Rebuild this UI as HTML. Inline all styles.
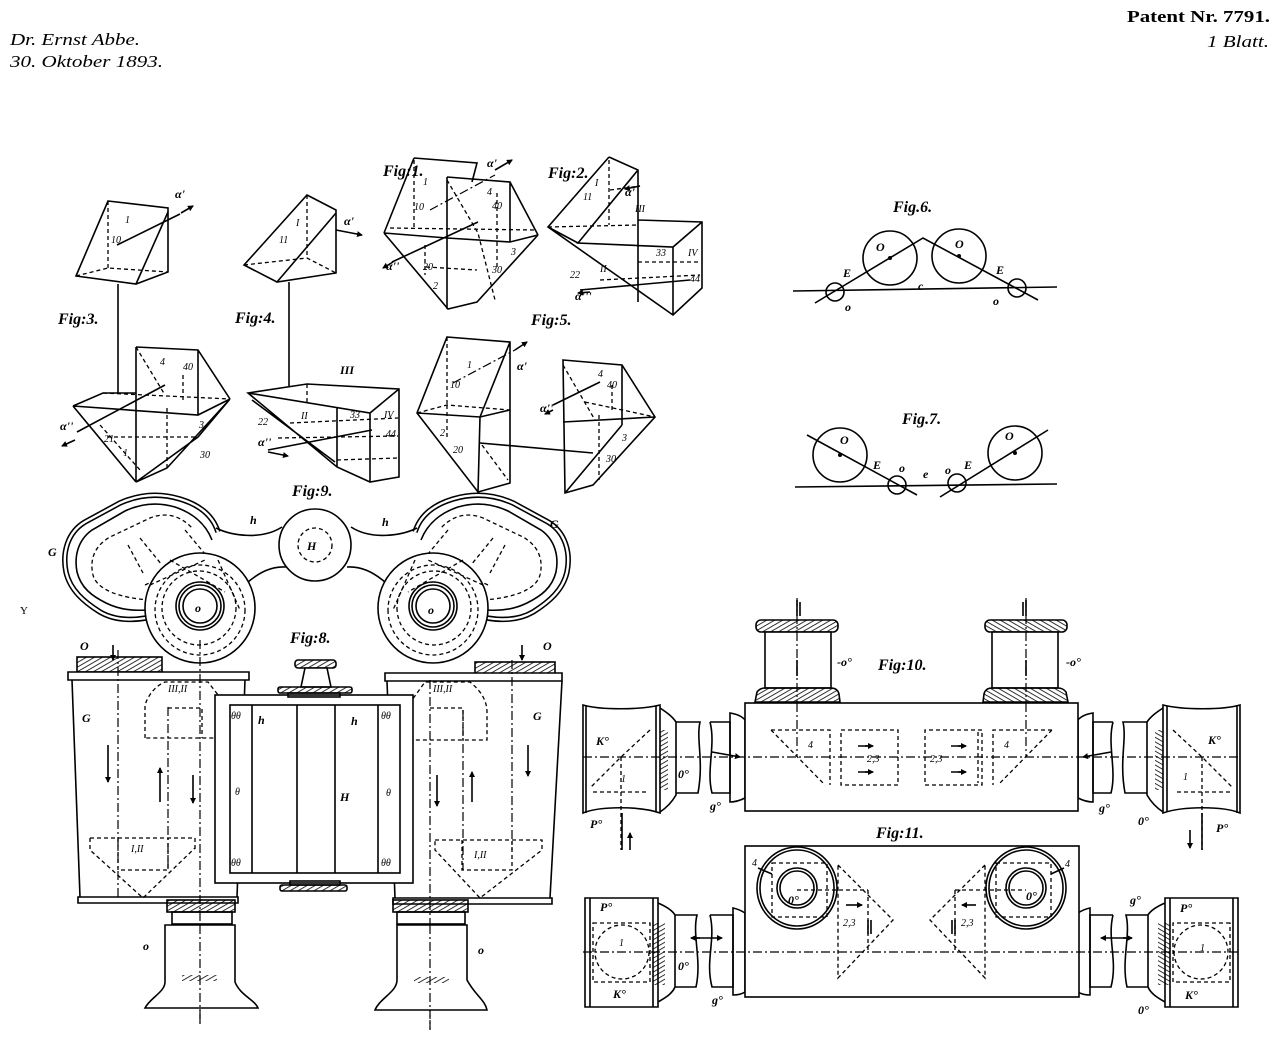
<!DOCTYPE html>
<html><head><meta charset="utf-8"><style>
html,body{margin:0;padding:0;background:#fff;}
svg{display:block}
text{font-family:"Liberation Serif",serif;font-style:italic;fill:#000;stroke:none}
.s{stroke:#000;fill:none;stroke-width:1.6}
.w{stroke:#000;fill:#fff;stroke-width:1.6}
.d{stroke:#000;fill:none;stroke-width:1.3;stroke-dasharray:4 3}
.dd{stroke:#000;fill:none;stroke-width:1.2;stroke-dasharray:9 3 2 3}
.f{font-weight:bold;font-size:16px}
.l{font-size:12px;font-weight:bold}
.m{font-size:10px}
</style></head><body>
<svg width="1280" height="1037" viewBox="0 0 1280 1037" xmlns="http://www.w3.org/2000/svg">
<defs>
<pattern id="h" width="4" height="4" patternUnits="userSpaceOnUse" patternTransform="rotate(60)">
<line x1="0" y1="0" x2="0" y2="4" stroke="#000" stroke-width="1.6"/>
</pattern>
<marker id="a" markerWidth="6" markerHeight="6" refX="5" refY="3" orient="auto" markerUnits="userSpaceOnUse">
<path d="M0,0 L6,3 L0,6 Z" fill="#000"/>
</marker>
</defs>

<!-- Header -->
<text x="10" y="45" font-size="17" textLength="130" lengthAdjust="spacingAndGlyphs">Dr. Ernst Abbe.</text>
<text x="10" y="67" font-size="17" textLength="153" lengthAdjust="spacingAndGlyphs">30. Oktober 1893.</text>
<text x="1270" y="22" font-size="17" text-anchor="end" style="font-style:normal;font-weight:bold" textLength="143" lengthAdjust="spacingAndGlyphs">Patent Nr. 7791.</text>
<text x="1269" y="47" font-size="17" text-anchor="end" textLength="62" lengthAdjust="spacingAndGlyphs">1 Blatt.</text>
<text x="20" y="614" font-size="11" style="font-style:normal">Y</text>

<!-- ===== Fig 3 ===== -->
<g class="s">
<path d="M108,201 L168,208 L168,272 L136,284 L76,276 Z"/>
<path d="M168,212 L136,284"/>
<path d="M117,245 L180,214"/>
<path d="M181,213 L193,206" marker-end="url(#a)"/>
<path d="M118,284 L118,393"/>
<path d="M136,347 L198,350 L230,399 M136,347 L136,482 M73,406 L103,393 L136,393 M73,406 L136,482 M73,406 L198,415 L230,399 M198,350 L198,415 M230,399 L198,437 L136,482 M230,399 L167,468 L136,482"/>
<path d="M77,432 L165,385"/>
<path d="M75,440 L62,446" marker-end="url(#a)"/>
</g>
<path class="d" d="M108,201 L108,268 M76,276 L108,268 L168,272 M103,393 L230,399 M136,347 L165,395 M183,375 L183,402 M107,437 L197,437 M167,468 L167,405 M100,425 L140,470"/>
<text x="175" y="198" class="l" font-size="15">α'</text>
<text x="125" y="223" class="m">1</text>
<text x="111" y="243" class="m">10</text>
<text x="160" y="365" class="m">4</text>
<text x="183" y="370" class="m">40</text>
<text x="199" y="428" class="m">3</text>
<text x="200" y="458" class="m">30</text>
<text x="104" y="442" class="m">21</text>
<text x="123" y="456" class="m">1</text>
<text x="60" y="430" class="l" font-size="14">α''</text>
<text x="58" y="324" class="f">Fig:3.</text>

<!-- ===== Fig 4 ===== -->
<g class="s">
<path d="M307,195 L336,210 L336,273 L277,282 L244,265 Z"/>
<path d="M336,213 L277,282"/>
<path d="M336,230 L362,235" marker-end="url(#a)"/>
<path d="M289,282 L289,386"/>
<path d="M248,393 L307,384 L399,389 L399,477 L370,482 L337,467 Z M248,393 L370,413 L399,389 M370,413 L370,482 M337,407 L337,467 M252,400 L335,462"/>
<path d="M268,450 L372,430"/>
<path d="M268,452 L288,456" marker-end="url(#a)"/>
</g>
<path class="d" d="M307,195 L307,258 M244,265 L307,258 L336,273 M307,384 L307,402 M290,423 L398,418 M278,438 L398,436 M337,460 L398,458"/>
<text x="296" y="226" class="m">I</text>
<text x="279" y="243" class="m">11</text>
<text x="344" y="225" class="l" font-size="15">α'</text>
<text x="340" y="374" class="l">III</text>
<text x="301" y="419" class="m">II</text>
<text x="258" y="425" class="m">22</text>
<text x="350" y="418" class="m">33</text>
<text x="384" y="418" class="m">IV</text>
<text x="386" y="437" class="m">44</text>
<text x="258" y="446" class="l" font-size="14">α''</text>
<text x="235" y="323" class="f">Fig:4.</text>

<!-- ===== Fig 1 ===== -->
<g class="s">
<path d="M414,158 L477,163 L472,182 M414,158 L384,233"/>
<path d="M447,177 L510,182 L538,235 M447,177 L447,309 M510,182 L510,242"/>
<path d="M384,233 L448,309 L477,302 L538,235 M384,233 L447,238 L510,242 L538,235"/>
<path d="M392,262 L478,222"/>
<path d="M393,262 L383,268" marker-end="url(#a)"/>
<path d="M495,170 L512,160" marker-end="url(#a)"/>
</g>
<path class="d" d="M414,160 L414,230 M390,228 L535,230 M497,193 L497,267 M447,180 L478,233 L495,300 M426,267 L477,270 M425,245 L425,275"/>
<path class="dd" d="M430,210 L495,175"/>
<text x="423" y="185" class="m">1</text>
<text x="487" y="195" class="m">4</text>
<text x="414" y="210" class="m">10</text>
<text x="492" y="209" class="m">40</text>
<text x="511" y="255" class="m">3</text>
<text x="433" y="289" class="m">2</text>
<text x="423" y="270" class="m">20</text>
<text x="492" y="273" class="m">30</text>
<text x="487" y="167" class="l" font-size="15">α'</text>
<text x="386" y="270" class="l" font-size="14">α''</text>
<text x="383" y="176" class="f">Fig:1.</text>

<!-- ===== Fig 2 ===== -->
<g class="s">
<path d="M609,157 L638,170 L638,302 M609,157 L548,227 L673,315 L702,288 L702,222 L638,220 M638,170 L578,243 L673,247 L702,222 M673,247 L673,315 M548,227 L578,243"/>
<path d="M580,290 L690,280"/>
<path d="M640,186 L625,189" marker-end="url(#a)"/>
<path d="M590,292 L578,293" marker-end="url(#a)"/>
</g>
<path class="d" d="M609,160 L609,225 M548,227 L638,225 M610,190 L640,186 M600,280 L700,275 M638,262 L700,262"/>
<text x="595" y="186" class="m">I</text>
<text x="583" y="200" class="m">11</text>
<text x="625" y="196" class="l" font-size="15">α'</text>
<text x="635" y="212" class="m">III</text>
<text x="656" y="256" class="m">33</text>
<text x="688" y="256" class="m">IV</text>
<text x="570" y="278" class="m">22</text>
<text x="600" y="272" class="m">II</text>
<text x="690" y="282" class="m">44</text>
<text x="575" y="300" class="l" font-size="14">α'''</text>
<text x="548" y="178" class="f">Fig:2.</text>

<!-- ===== Fig 5 ===== -->
<g class="s">
<path d="M447,337 L510,342 L510,483 L478,492 L417,413 Z M417,413 L480,417 L510,410 M480,417 L478,492 M510,342 L480,417"/>
<path d="M480,443 L593,453"/>
<path d="M563,360 L622,365 L655,417 L593,485 L565,493 Z M563,422 L655,417 M622,365 L622,425 M622,425 L565,493"/>
<path d="M515,350 L527,342" marker-end="url(#a)"/>
<path d="M553,405 L600,382"/>
<path d="M553,410 L545,414" marker-end="url(#a)"/>
</g>
<path class="d" d="M447,337 L447,405 M417,413 L447,405 L510,410 M447,405 L447,440 M482,445 L508,480 M563,365 L595,420 M599,415 L599,480 M585,402 L655,417 M612,385 L612,412"/>
<path class="dd" d="M453,383 L515,350"/>
<text x="467" y="368" class="m">1</text>
<text x="450" y="388" class="m">10</text>
<text x="517" y="370" class="l" font-size="15">α'</text>
<text x="440" y="436" class="m">2</text>
<text x="453" y="453" class="m">20</text>
<text x="598" y="377" class="m">4</text>
<text x="607" y="388" class="m">40</text>
<text x="540" y="412" class="l" font-size="14">α''</text>
<text x="622" y="441" class="m">3</text>
<text x="606" y="462" class="m">30</text>
<text x="531" y="325" class="f">Fig:5.</text>

<!-- ===== Fig 6 ===== -->
<g class="s">
<circle cx="890" cy="258" r="27"/>
<circle cx="959" cy="256" r="27"/>
<path d="M793,291 L1057,287"/>
<path d="M815,303 L923,238 L1038,300"/>
<circle cx="835" cy="292" r="9"/>
<circle cx="1017" cy="288" r="9"/>
</g>
<circle cx="890" cy="258" r="2" fill="#000"/>
<circle cx="959" cy="256" r="2" fill="#000"/>
<text x="876" y="251" class="l" font-size="14">O</text>
<text x="955" y="248" class="l" font-size="14">O</text>
<text x="843" y="277" class="l" font-size="14">E</text>
<text x="996" y="274" class="l" font-size="14">E</text>
<text x="918" y="290" class="l">c</text>
<text x="845" y="311" class="l">o</text>
<text x="993" y="305" class="l">o</text>
<text x="893" y="212" class="f">Fig.6.</text>

<!-- ===== Fig 7 ===== -->
<g class="s">
<circle cx="840" cy="455" r="27"/>
<circle cx="1015" cy="453" r="27"/>
<path d="M795,487 L1057,484"/>
<path d="M807,435 L917,495 M940,497 L1048,430"/>
<circle cx="897" cy="485" r="9"/>
<circle cx="957" cy="483" r="9"/>
</g>
<circle cx="840" cy="455" r="2" fill="#000"/>
<circle cx="1015" cy="453" r="2" fill="#000"/>
<text x="840" y="444" class="l" font-size="14">O</text>
<text x="1005" y="440" class="l" font-size="14">O</text>
<text x="873" y="469" class="l" font-size="14">E</text>
<text x="964" y="469" class="l" font-size="14">E</text>
<text x="923" y="478" class="l">e</text>
<text x="899" y="472" class="l">o</text>
<text x="945" y="474" class="l">o</text>
<text x="902" y="424" class="f">Fig.7.</text>

<!-- ===== Fig 9 ===== -->
<g id="half9">
<path d="M218,532 C213,516 200,505 180,499 C160,493 140,494 120,503 L85,522 C68,532 62,552 66,572 C70,590 84,602 100,612 C112,619 128,621 146,618" stroke="#000" stroke-width="5.5" fill="none"/>
<path d="M218,532 C213,516 200,505 180,499 C160,493 140,494 120,503 L85,522 C68,532 62,552 66,572 C70,590 84,602 100,612 C112,619 128,621 146,618" stroke="#fff" stroke-width="2.4" fill="none"/>
<path class="s" d="M212,540 C205,522 190,512 175,507 C158,502 142,503 125,511 L92,530 C78,540 74,556 77,572 C81,588 92,596 106,603 C118,609 132,611 146,610"/>
<path class="d" d="M150,600 C120,598 97,590 93,575 C89,558 96,545 110,537 L150,518 C165,512 180,515 192,528 M128,545 L143,573 M140,538 L162,565 M185,530 L210,560 M145,585 L195,562"/>
<path class="s" d="M216,528 C232,536 262,540 282,527"/>
<path class="s" d="M248,582 C260,572 272,566 286,567"/>
<circle class="w" cx="200" cy="608" r="55"/>
<circle class="d" cx="200" cy="610" r="45"/>
<circle class="d" cx="199" cy="608" r="37"/>
<path class="d" d="M150,585 L205,560 M170,560 L225,592 M218,560 L240,610"/>
<circle class="w" cx="200" cy="606" r="24"/>
<circle class="s" cx="200" cy="606" r="21"/>
<circle class="s" cx="200" cy="606" r="17"/>
</g>
<use href="#half9" transform="matrix(-1,0,0,1,633,0)"/>
<circle class="w" cx="315" cy="545" r="36"/>
<circle class="d" cx="315" cy="545" r="17"/>
<text x="307" y="550" class="l" font-size="14">H</text>
<text x="195" y="612" class="l" font-size="14">o</text>
<text x="428" y="614" class="l" font-size="14">o</text>
<text x="48" y="556" class="l" font-size="16">G</text>
<text x="550" y="528" class="l" font-size="16">G</text>
<text x="250" y="524" class="l" font-size="14">h</text>
<text x="382" y="526" class="l" font-size="14">h</text>
<text x="292" y="496" class="f">Fig:9.</text>

<!-- ===== Fig 8 ===== -->
<g class="s">
<rect x="77" y="657" width="85" height="15" fill="url(#h)"/>
<path d="M68,672 L249,672 L249,680 L68,680 Z" fill="#fff"/>
<path d="M72,680 L80,897 M245,680 L237,897"/>
<path d="M78,897 L238,897 L238,903 L78,903 Z"/>
<rect x="475" y="662" width="80" height="13" fill="url(#h)"/>
<path d="M385,673 L562,673 L562,681 L385,681 Z" fill="#fff"/>
<path d="M387,681 L395,898 M562,681 L550,898"/>
<path d="M393,898 L552,898 L552,904 L393,904 Z"/>
</g>
<path class="d" d="M145,738 L145,705 C150,690 160,684 165,682 L208,682 L222,700 L220,738 Z M168,708 L202,708 L202,738 M90,838 L195,838 L195,850 M90,838 L90,850 L143,898 L195,848 M118,838 L118,870 L168,870 L168,838 M412,740 L412,700 L425,682 L470,682 C480,690 487,700 487,712 L487,740 Z M430,708 L463,708 L463,740 M435,840 L542,840 L542,850 L480,898 L435,850 Z M462,840 L462,870 L512,870 L512,840"/>
<path class="dd" d="M118,650 L118,898 M168,707 L168,870 M200,640 L200,1025 M430,680 L430,1030 M463,710 L463,870 M512,660 L512,850"/>
<g class="s">
<path d="M108,745 L108,782" marker-end="url(#a)"/>
<path d="M160,802 L160,768" marker-end="url(#a)"/>
<path d="M193,775 L193,803" marker-end="url(#a)"/>
<path d="M437,775 L437,806" marker-end="url(#a)"/>
<path d="M472,802 L472,772" marker-end="url(#a)"/>
<path d="M528,745 L528,776" marker-end="url(#a)"/>
<path d="M113,645 L113,660" marker-end="url(#a)"/>
<path d="M522,645 L522,660" marker-end="url(#a)"/>
</g>
<g class="s">
<rect x="215" y="695" width="198" height="188" fill="#fff"/>
<rect x="230" y="705" width="170" height="168"/>
<path d="M252,705 L252,873 M297,705 L297,873 M335,705 L335,873 M378,705 L378,873"/>
<rect x="295" y="660" width="41" height="8" rx="3" fill="url(#h)"/>
<path d="M305,668 L327,668 L331,687 L301,687 Z" fill="#fff"/>
<rect x="278" y="687" width="74" height="6" rx="2" fill="url(#h)"/>
<rect x="288" y="693" width="52" height="4"/>
<rect x="290" y="881" width="50" height="4"/>
<rect x="280" y="885" width="67" height="6" rx="2" fill="url(#h)"/>
</g>
<g class="s">
<rect x="167" y="900" width="68" height="12" fill="url(#h)"/>
<rect x="172" y="912" width="60" height="12"/>
<path d="M165,925 L235,925 L235,982 C240,995 255,1000 258,1008 L145,1008 C150,998 165,992 165,982 Z" fill="#fff"/>
<rect x="182" y="975" width="35" height="6" fill="url(#h)" stroke="none"/>
<rect x="393" y="900" width="75" height="12" fill="url(#h)"/>
<rect x="397" y="912" width="68" height="12"/>
<path d="M397,925 L467,925 L467,980 C475,995 485,1000 487,1010 L375,1010 C380,998 397,992 397,980 Z" fill="#fff"/>
<rect x="414" y="977" width="35" height="6" fill="url(#h)" stroke="none"/>
</g>
<path class="dd" d="M200,925 L200,1025 M430,925 L430,1030"/>
<text x="80" y="650" class="l" font-size="15">O</text>
<text x="543" y="650" class="l" font-size="15">O</text>
<text x="82" y="722" class="l" font-size="16">G</text>
<text x="533" y="720" class="l" font-size="16">G</text>
<text x="258" y="724" class="l" font-size="14">h</text>
<text x="351" y="725" class="l" font-size="14">h</text>
<text x="340" y="801" class="l" font-size="14">H</text>
<text x="235" y="795" class="m">θ</text>
<text x="386" y="796" class="m">θ</text>
<text x="231" y="719" class="m">θθ</text>
<text x="381" y="719" class="m">θθ</text>
<text x="231" y="866" class="m">θθ</text>
<text x="381" y="866" class="m">θθ</text>
<text x="168" y="692" class="m">III,II</text>
<text x="433" y="692" class="m">III,II</text>
<text x="131" y="852" class="m">I,II</text>
<text x="474" y="858" class="m">I,II</text>
<text x="143" y="950" class="l" font-size="14">o</text>
<text x="478" y="954" class="l" font-size="14">o</text>
<text x="290" y="643" class="f">Fig:8.</text>

<!-- ===== Fig 10 ===== -->
<g id="half10">
<g class="s">
<rect x="756" y="620" width="82" height="12" rx="5" fill="url(#h)"/>
<rect x="765" y="632" width="66" height="56" fill="#fff"/>
<path d="M755,702 L757,692 C760,688 764,688 765,688 L831,688 C835,688 838,690 839,694 L840,702 Z" fill="url(#h)"/>
<path d="M583,705 C600,710 640,710 660,705 L660,813 C640,806 600,806 583,813 Z" fill="#fff"/>
<path d="M586,705 L586,813 M656,706 L656,812"/>
<path d="M660,708 C666,712 672,716 676,722 L676,795 C672,802 666,808 660,812"/>
<path d="M676,722 L700,722 C696,740 704,760 698,793 L676,793"/>
<path d="M710,722 L730,722 L730,793 L712,793 C706,770 716,745 710,722"/>
<path d="M730,713 C736,714 742,716 745,720 L745,798 C741,800 736,802 730,802 Z"/>
<path d="M712,752 L740,757" marker-end="url(#a)"/>
</g>
<rect x="660" y="730" width="8" height="60" fill="url(#h)"/>
<path class="d" d="M650,730 L621,757 L591,787 M593,792 L648,792 M621,757 L621,850"/>
<path class="dd" d="M797,598 L797,757"/>
<path class="s" d="M797,600 L797,616 M800,602 L800,616"/>
<path class="s" d="M797,660 L797,676"/>
</g>
<use href="#half10" transform="matrix(-1,0,0,1,1823,0)"/>
<rect class="w" x="745" y="703" width="333" height="108"/>
<g>
<path class="d" d="M771,730 L830,730 L830,785 M771,730 L825,785 M841,730 L898,730 L898,785 L841,785 Z M1052,730 L993,730 L993,785 M1052,730 L998,785 M982,730 L925,730 L925,785 L982,785 Z M978,732 L978,783"/>
<path class="dd" d="M583,757 L1240,757 M797,703 L797,757 M1026,703 L1026,757"/>
<path class="s" d="M858,746 L872,746 M858,772 L872,772 M951,746 L965,746 M951,772 L965,772"/>
<path class="s" d="M865,746 L873,746" marker-end="url(#a)"/>
<path class="s" d="M865,772 L873,772" marker-end="url(#a)"/>
<path class="s" d="M958,746 L966,746" marker-end="url(#a)"/>
<path class="s" d="M958,772 L966,772" marker-end="url(#a)"/>
</g>
<path class="s" d="M622,813 L622,850 M1202,813 L1202,850"/>
<path class="s" d="M630,850 L630,833" marker-end="url(#a)"/>
<path class="s" d="M1190,830 L1190,848" marker-end="url(#a)"/>
<text x="808" y="748" class="m">4</text>
<text x="1004" y="748" class="m">4</text>
<text x="867" y="762" class="m">2,3</text>
<text x="930" y="762" class="m">2,3</text>
<text x="596" y="745" class="l" font-size="14">K°</text>
<text x="1208" y="744" class="l" font-size="14">K°</text>
<text x="621" y="782" class="m">1</text>
<text x="1183" y="780" class="m">1</text>
<text x="678" y="778" class="l" font-size="14">0°</text>
<text x="1138" y="825" class="l" font-size="13">0°</text>
<text x="710" y="810" class="l" font-size="13">g°</text>
<text x="1099" y="812" class="l" font-size="13">g°</text>
<text x="590" y="828" class="l" font-size="14">P°</text>
<text x="1216" y="832" class="l" font-size="14">P°</text>
<text x="837" y="666" class="l" font-size="13">-o°</text>
<text x="1066" y="666" class="l" font-size="13">-o°</text>
<text x="878" y="670" class="f">Fig:10.</text>

<!-- ===== Fig 11 ===== -->
<g id="half11">
<g class="s">
<path d="M585,898 L658,898 L658,1007 L585,1007 Z" fill="#fff"/>
<path d="M590,898 L590,1007 M653,898 L653,1007"/>
<path d="M658,903 C665,906 672,910 675,915 L675,987 C672,994 665,998 658,1002"/>
<path d="M675,915 L697,915 C692,935 702,960 696,987 L675,987"/>
<path d="M710,915 L733,915 L733,987 L712,987 C705,960 716,940 710,915"/>
<path d="M733,908 C738,909 742,911 745,913 L745,992 C742,994 738,995 733,995 Z"/>
</g>
<rect x="653" y="923" width="12" height="62" fill="url(#h)"/>
<path class="d" d="M593,923 L650,923 L650,982 L593,982 Z"/>
<circle class="d" cx="622" cy="952" r="27"/>
<path class="s" d="M692,938 L722,938" marker-end="url(#a)"/>
<path class="s" d="M700,938 L691,938" marker-end="url(#a)"/>
</g>
<use href="#half11" transform="matrix(-1,0,0,1,1823,0)"/>
<rect class="w" x="745" y="846" width="334" height="151"/>
<g class="s">
<ellipse cx="797" cy="888" rx="40" ry="41"/>
<ellipse cx="797" cy="888" rx="37" ry="38"/>
<ellipse cx="797" cy="888" rx="20" ry="20"/>
<ellipse cx="797" cy="888" rx="17" ry="17"/>
<ellipse cx="1026" cy="888" rx="40" ry="41"/>
<ellipse cx="1026" cy="888" rx="37" ry="38"/>
<ellipse cx="1026" cy="888" rx="20" ry="20"/>
<ellipse cx="1026" cy="888" rx="17" ry="17"/>
</g>
<path class="d" d="M772,863 L827,863 L827,917 L772,917 Z M838,865 L893,920 L838,978 Z M868,890 L868,952 M797,890 L868,890 M996,863 L1051,863 L1051,917 L996,917 Z M985,865 L930,920 L985,978 Z M955,890 L955,952 M955,890 L1026,890"/>
<path class="dd" d="M583,952 L1240,952"/>
<path class="s" d="M846,905 L862,905" marker-end="url(#a)"/>
<path class="s" d="M868,920 L868,934 M871,920 L871,934"/>
<path class="s" d="M976,905 L962,905" marker-end="url(#a)"/>
<path class="s" d="M952,920 L952,934 M955,920 L955,934"/>
<path class="s" d="M758,868 L772,874 M1051,874 L1064,868" stroke-width="1"/>
<text x="752" y="866" class="m">4</text>
<text x="1065" y="867" class="m">4</text>
<text x="788" y="904" class="l" font-size="13">0°</text>
<text x="1026" y="900" class="l" font-size="13">0°</text>
<text x="843" y="926" class="m">2,3</text>
<text x="961" y="926" class="m">2,3</text>
<text x="600" y="911" class="l" font-size="14">P°</text>
<text x="1180" y="912" class="l" font-size="14">P°</text>
<text x="619" y="946" class="m">1</text>
<text x="1200" y="951" class="m">1</text>
<text x="613" y="998" class="l" font-size="14">K°</text>
<text x="1185" y="999" class="l" font-size="14">K°</text>
<text x="678" y="970" class="l" font-size="14">0°</text>
<text x="1138" y="1014" class="l" font-size="13">0°</text>
<text x="712" y="1004" class="l" font-size="13">g°</text>
<text x="1130" y="904" class="l" font-size="13">g°</text>
<text x="876" y="838" class="f">Fig:11.</text>
</svg>
</body></html>
